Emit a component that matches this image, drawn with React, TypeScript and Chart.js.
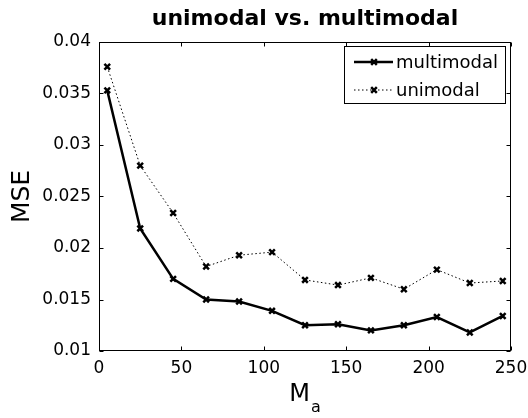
import React, { useEffect, useRef } from "react";
import { Chart, registerables } from "chart.js";

Chart.register(...registerables);

const MA = [5, 25, 45, 65, 85, 105, 125, 145, 165, 185, 205, 225, 245];
const MULTIMODAL = [0.0353, 0.0219, 0.017, 0.015, 0.0148, 0.0139, 0.0125, 0.0126, 0.012, 0.0125, 0.0133, 0.0118, 0.0134];
const UNIMODAL = [0.0376, 0.028, 0.0234, 0.0182, 0.0193, 0.0196, 0.0169, 0.0164, 0.0171, 0.016, 0.0179, 0.0166, 0.0168];
const X_TICKS = [0, 50, 100, 150, 200, 250];
const Y_TICKS = [0.01, 0.015, 0.02, 0.025, 0.03, 0.035, 0.04];
const TITLE = "unimodal vs. multimodal";
const X_LABEL = "M";
const X_SUB = "a";
const Y_LABEL = "MSE";
const SERIES_NAMES = ["multimodal", "unimodal"];

const FONT = "'DejaVu Sans', 'Liberation Sans', sans-serif";

const decor = {
  id: "decor",
  afterDraw(chart: any) {
    const { ctx, chartArea: a, scales } = chart;
    const L = Math.round(a.left) + 0.5;
    const R = Math.round(a.right) - 0.5;
    const T = Math.round(a.top) + 0.5;
    const B = Math.round(a.bottom) - 0.5;
    ctx.save();
    ctx.strokeStyle = "#000";
    ctx.lineWidth = 1;
    ctx.strokeRect(L, T, R - L, B - T);
    const tl = 4;
    ctx.beginPath();
    for (const v of X_TICKS) {
      const px = Math.round(scales.x.getPixelForValue(v)) + 0.5;
      ctx.moveTo(px, B);
      ctx.lineTo(px, B - tl);
      ctx.moveTo(px, T);
      ctx.lineTo(px, T + tl);
    }
    for (const v of Y_TICKS) {
      const py = Math.round(scales.y.getPixelForValue(v)) + 0.5;
      ctx.moveTo(L, py);
      ctx.lineTo(L + tl, py);
      ctx.moveTo(R, py);
      ctx.lineTo(R - tl, py);
    }
    ctx.stroke();

    // title
    const cx = (a.left + a.right) / 2;
    ctx.fillStyle = "#000";
    ctx.font = `bold 22px ${FONT}`;
    ctx.textAlign = "center";
    ctx.textBaseline = "alphabetic";
    ctx.fillText(TITLE, cx, 25);

    // y label
    ctx.save();
    ctx.translate(29, (a.top + a.bottom) / 2);
    ctx.rotate(-Math.PI / 2);
    ctx.font = `25px ${FONT}`;
    ctx.textAlign = "center";
    ctx.fillText(Y_LABEL, 0, 0);
    ctx.restore();

    // x label with subscript
    ctx.font = `24px ${FONT}`;
    const wM = ctx.measureText(X_LABEL).width;
    ctx.font = `16px ${FONT}`;
    const wa = ctx.measureText(X_SUB).width;
    const sx = cx - (wM + wa + 1) / 2;
    ctx.textAlign = "left";
    ctx.font = `24px ${FONT}`;
    ctx.fillText(X_LABEL, sx, 401);
    ctx.font = `16px ${FONT}`;
    ctx.fillText(X_SUB, sx + wM + 1, 412);

    // legend
    const lx = 344.5, ly = 46.5, lw = 161, lh = 57;
    ctx.fillStyle = "#fff";
    ctx.fillRect(lx, ly, lw, lh);
    ctx.strokeStyle = "#000";
    ctx.lineWidth = 1;
    ctx.strokeRect(lx, ly, lw, lh);
    const rows = [62, 90];
    chart.data.datasets.forEach((ds: any, i: number) => {
      const y = rows[i];
      ctx.save();
      ctx.strokeStyle = "#000";
      ctx.lineWidth = ds.borderWidth;
      ctx.setLineDash(ds.borderDash || []);
      ctx.beginPath();
      ctx.moveTo(354, y);
      ctx.lineTo(393, y);
      ctx.stroke();
      ctx.setLineDash([]);
      ctx.lineWidth = ds.pointBorderWidth;
      const r = ds.pointRadius * 0.7071;
      ctx.beginPath();
      ctx.moveTo(374 - r, y - r);
      ctx.lineTo(374 + r, y + r);
      ctx.moveTo(374 - r, y + r);
      ctx.lineTo(374 + r, y - r);
      ctx.stroke();
      ctx.restore();
      ctx.fillStyle = "#000";
      ctx.font = `18px ${FONT}`;
      ctx.textAlign = "left";
      ctx.textBaseline = "middle";
      ctx.fillText(ds.label, 396, y + 1);
    });
    ctx.restore();
  },
};

export default function App() {
  const ref = useRef<HTMLCanvasElement | null>(null);
  useEffect(() => {
    document.body.style.margin = "0";
    const canvas = ref.current!;
    const chart = new Chart(canvas, {
      type: "line",
      data: {
        datasets: [
          {
            label: SERIES_NAMES[0],
            data: MA.map((x, i) => ({ x, y: MULTIMODAL[i] })),
            borderColor: "#000",
            backgroundColor: "#000",
            borderWidth: 2.5,
            pointStyle: "crossRot",
            pointRadius: 4,
            pointBorderWidth: 2.5,
            pointBorderColor: "#000",
            tension: 0,
          },
          {
            label: SERIES_NAMES[1],
            data: MA.map((x, i) => ({ x, y: UNIMODAL[i] })),
            borderColor: "#000",
            backgroundColor: "#000",
            borderWidth: 1,
            borderDash: [1.5, 2.5],
            pointStyle: "crossRot",
            pointRadius: 4,
            pointBorderWidth: 2.5,
            pointBorderColor: "#000",
            tension: 0,
          },
        ],
      },
      options: {
        animation: false,
        responsive: false,
        layout: { padding: { left: 0, top: 42, right: 17, bottom: 0 } },
        plugins: { legend: { display: false }, title: { display: false }, tooltip: { enabled: false } },
        scales: {
          x: {
            type: "linear",
            min: 0,
            max: 250,
            grid: { display: false, drawTicks: false },
            border: { display: false },
            ticks: {
              font: { family: FONT, size: 17 },
              color: "#000",
              padding: 7,
              maxRotation: 0,
              autoSkip: false,
            },
            afterBuildTicks: (s: any) => {
              s.ticks = X_TICKS.map((v) => ({ value: v }));
            },
            afterFit: (s: any) => {
              s.height = 67;
              s.paddingLeft = 0;
              s.paddingRight = 0;
            },
          },
          y: {
            type: "linear",
            min: 0.01,
            max: 0.04,
            grid: { display: false, drawTicks: false },
            border: { display: false },
            ticks: {
              font: { family: FONT, size: 17 },
              color: "#000",
              padding: 8,
              autoSkip: false,
              callback: (v: any) => String(+Number(v).toFixed(3)),
            },
            afterBuildTicks: (s: any) => {
              s.ticks = Y_TICKS.map((v) => ({ value: v }));
            },
            afterFit: (s: any) => {
              s.width = 99;
              s.paddingTop = 0;
              s.paddingBottom = 0;
            },
          },
        },
      },
      plugins: [decor],
    } as any);
    return () => chart.destroy();
  }, []);
  return (
    <div style={{ position: "absolute", left: 0, top: 0, width: 528, height: 418 }}>
      <canvas ref={ref} width={528} height={418} style={{ width: 528, height: 418, display: "block" }} />
    </div>
  );
}
